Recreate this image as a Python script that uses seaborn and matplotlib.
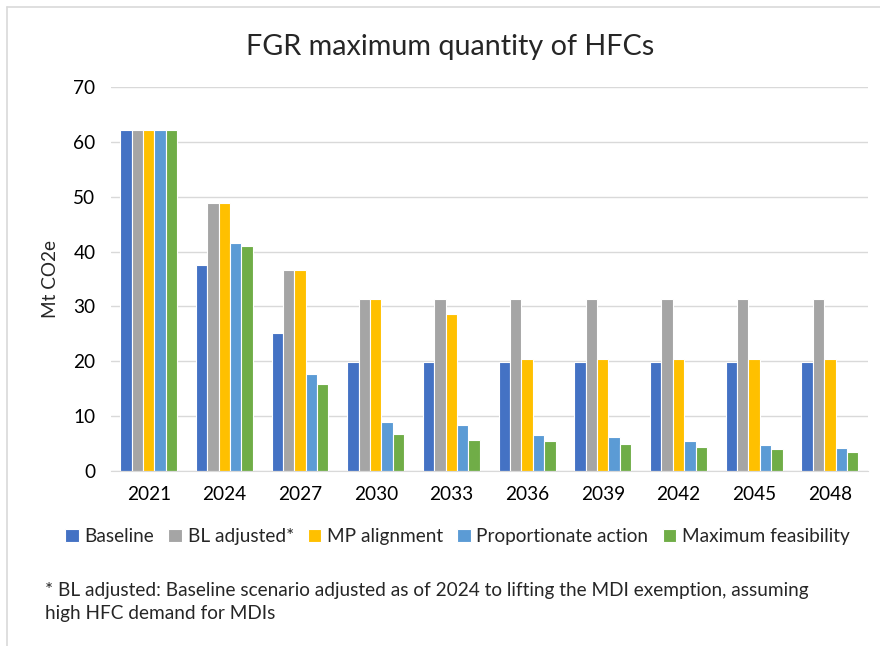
import numpy as np
import pandas as pd
import matplotlib
matplotlib.use("Agg")
import matplotlib.pyplot as plt
import seaborn as sns

# ---------- data ----------
years = ["2021", "2024", "2027", "2030", "2033", "2036", "2039", "2042", "2045", "2048"]
baseline = [62.2, 37.5, 25.1, 19.8, 19.8, 19.8, 19.8, 19.8, 19.8, 19.8]
bl_adjusted = [62.2, 48.9, 36.6, 31.3, 31.3, 31.3, 31.3, 31.3, 31.3, 31.3]
mp_alignment = [62.2, 48.9, 36.6, 31.3, 28.6, 20.4, 20.4, 20.4, 20.4, 20.4]
proportionate = [62.2, 41.6, 17.6, 9.0, 8.3, 6.6, 6.1, 5.4, 4.7, 4.1]
max_feasibility = [62.2, 41.0, 15.9, 6.8, 5.7, 5.4, 4.9, 4.4, 4.0, 3.5]

scenarios = ["Baseline", "BL adjusted*", "MP alignment", "Proportionate action", "Maximum feasibility"]
colors = ["#4472C4", "#A5A5A5", "#FFC000", "#5B9BD5", "#70AD47"]

df = pd.DataFrame({
    "Year": years * 5,
    "Scenario": np.repeat(scenarios, len(years)),
    "Value": baseline + bl_adjusted + mp_alignment + proportionate + max_feasibility,
})

sns.set_style("white")
plt.rcParams["font.family"] = ["Lato", "DejaVu Sans"]
FS = 13.7

fig = plt.figure(figsize=(8.8, 6.46), dpi=100)
ax = fig.add_axes([0.126, 0.271, 0.86, 0.594])

sns.barplot(data=df, x="Year", y="Value", hue="Scenario", palette=colors, saturation=1,
            width=0.75, edgecolor="white", linewidth=0.8, ax=ax)

ax.set_ylim(0, 70)
ax.set_yticks(range(0, 71, 10))
ax.grid(axis="y", color="#D9D9D9", linewidth=1)
ax.set_axisbelow(True)
for s in ["top", "right", "left"]:
    ax.spines[s].set_visible(False)
ax.spines["bottom"].set_color("#D9D9D9")
ax.tick_params(axis="both", length=0, labelsize=FS, colors="#000000", pad=11)
ax.set_xlabel("")
ax.set_ylabel("Mt CO2e", fontsize=FS, labelpad=10)

fig.text(0.511, 0.927, "FGR maximum quantity of HFCs", ha="center", va="center", fontsize=20.7)

ax.legend(loc="upper center", bbox_to_anchor=(0.458, -0.13), ncol=5, frameon=False,
          fontsize=FS, handlelength=0.7, handleheight=0.7, handletextpad=0.3,
          columnspacing=0.75, borderaxespad=0)

fig.text(0.051, 0.068, "* BL adjusted: Baseline scenario adjusted as of 2024 to lifting the MDI exemption, assuming\nhigh HFC demand for MDIs",
         ha="left", va="center", fontsize=FS, linespacing=1.45)

# chart border as in the source
fig.add_artist(plt.Line2D([0.008, 0.008], [0, 0.989], color="#D9D9D9", linewidth=1.2))
fig.add_artist(plt.Line2D([0.008, 1], [0.989, 0.989], color="#D9D9D9", linewidth=1.2))

fig.savefig("out.png", dpi=100)
